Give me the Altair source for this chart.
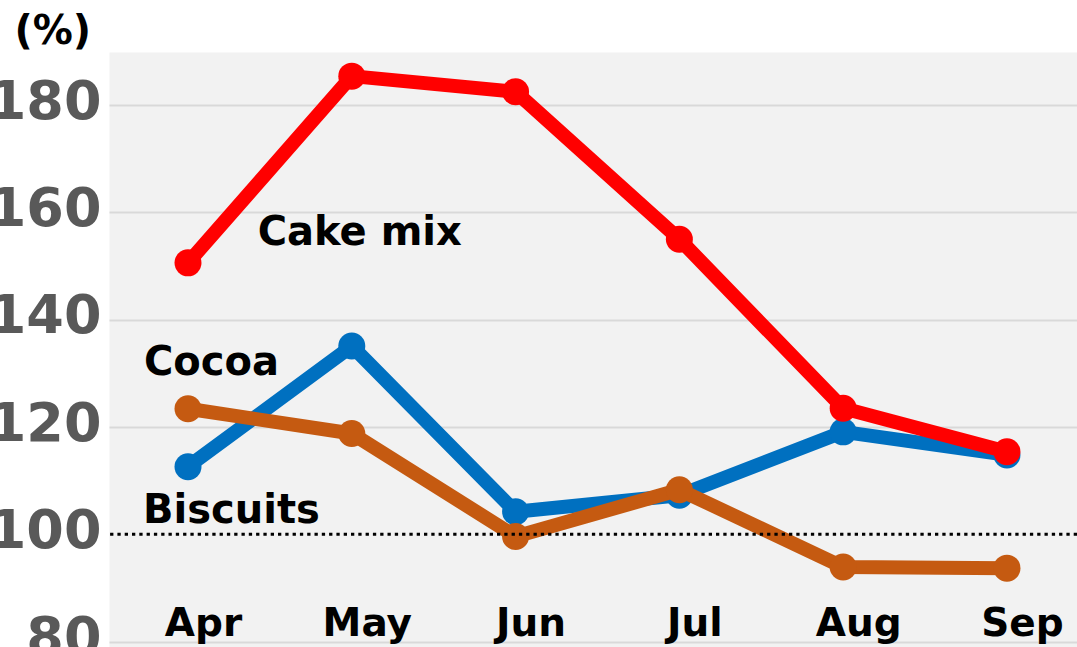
import altair as alt
import pandas as pd

# Monthly index values (%), one list per product
months = ["Apr", "May", "Jun", "Jul", "Aug", "Sep"]
cake_mix = [150.6, 185.4, 182.5, 155.0, 123.5, 115.4]
cocoa = [112.6, 135.1, 104.2, 107.3, 119.1, 114.8]
biscuits = [123.4, 118.8, 99.6, 108.3, 93.9, 93.7]

# Drawing order, bottom to top
series_names = ["Cocoa", "Biscuits", "Cake mix"]
series_values = [cocoa, biscuits, cake_mix]
series_colors = ["#0070c0", "#c55a11", "#ff0000"]

# Inline series labels: text, anchor month, anchor value
label_names = ["Cake mix", "Cocoa", "Biscuits"]
label_months = ["May", "Apr", "Apr"]
label_values = [153.9, 129.7, 102.1]

y_ticks = [80, 100, 120, 140, 160, 180]
reference_level = [100]

FONT = "DejaVu Sans"

x_scale = alt.Scale(type="point", domain=months, padding=0.455, align=0.53)
y_scale = alt.Scale(domain=[79, 189.9], nice=False, zero=False)

x_axis = alt.Axis(
    title=None, domain=False, ticks=False, tickSize=0, grid=False,
    labelFont=FONT, labelFontSize=39, labelFontWeight="bold", labelColor="black",
    labelBaseline="alphabetic", labelPadding=0, offset=-12, labelAngle=0,
    labelOffset=15,
)
y_axis = alt.Axis(
    title="(%)", titleAngle=0, titleAlign="left", titleBaseline="alphabetic",
    titleX=-95, titleY=-9, titleFont=FONT, titleFontSize=40, titleFontWeight="bold",
    titleColor="black",
    values=y_ticks, domain=False, ticks=False, tickSize=0,
    grid=True, gridWidth=2,
    gridColor=alt.condition("datum.value === 100", alt.value("transparent"), alt.value("#d9d9d9")),
    labelFont=FONT, labelFontSize=54, labelFontWeight="bold", labelColor="#595959",
    labelPadding=8, labelOffset=-3,
)

X = alt.X("month:N", sort=months, scale=x_scale, axis=x_axis)
Y = alt.Y("value:Q", scale=y_scale, axis=y_axis)

layers = []
for name, vals, col in zip(series_names, series_values, series_colors):
    df = pd.DataFrame({"month": months, "value": vals, "series": name})
    line = alt.Chart(df).mark_line(color=col, strokeWidth=14, strokeJoin="round").encode(x=X, y=Y)
    pts = alt.Chart(df).mark_point(
        filled=True, shape="circle", size=729, color=col, opacity=1
    ).encode(x=X, y=Y)
    layers += [line, pts]

label_dx = [8, -44, -45]
label_align = ["center", "left", "left"]
for name, m, v, dx, al in zip(label_names, label_months, label_values, label_dx, label_align):
    df = pd.DataFrame({"month": [m], "value": [v], "label": [name]})
    layers.append(
        alt.Chart(df).mark_text(
            align=al, baseline="alphabetic", dx=dx, font=FONT, fontSize=40,
            fontWeight="bold", color="black",
        ).encode(x=X, y=Y, text="label:N")
    )

# Dotted reference line at the 100 % level
rule = alt.Chart(pd.DataFrame({"value": reference_level})).mark_rule(
    color="black", strokeWidth=3, strokeDash=[3.3, 4]
).encode(y=Y)
layers.append(rule)

chart = alt.layer(*layers).properties(
    width=968, height=595,
    autosize=alt.AutoSizeParams(type="none"),
    padding={"left": 109, "top": 52, "right": 0, "bottom": 0},
    background="white",
).configure_view(fill="#f2f2f2", stroke="transparent")

chart.save("out.html", embed_options={"renderer": "svg", "actions": False})
